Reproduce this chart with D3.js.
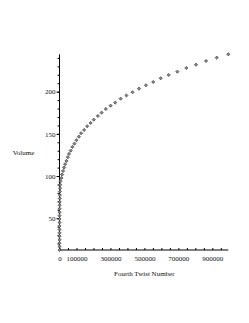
<!DOCTYPE html>
<html>
<head>
<meta charset="utf-8">
<script src="https://cdn.jsdelivr.net/npm/d3@7"></script>
<style>
  body { margin: 0; background: #fff; }
  svg { display: block; }
  text { font-family: "Liberation Serif", "Times New Roman", serif; fill: #111; }
</style>
</head>
<body>
<div id="chart"></div>
<script>
// twist number (x) and volume (y), bottom to top
const twistNumber = [
  0, 1, 2, 4, 9, 18, 35, 60, 100, 160,
  250, 380, 560, 800, 1100, 1500, 2000, 2700, 3500, 4500,
  5600, 11500, 15000, 21000, 27000, 33000, 41000, 49000, 56000, 66000,
  76000, 88000, 100000, 114000, 127000, 145000, 163000, 183000, 202000, 226000,
  248000, 273000, 301000, 328000, 360000, 394000, 430000, 468000, 509000, 552000,
  596000, 643000, 694000, 747000, 804000, 863000, 926000, 994000
];
const volume = [
  12.3, 16.4, 20.4, 24.5, 28.6, 32.7, 36.7, 40.8, 44.9, 49.0,
  53.0, 57.1, 61.2, 65.3, 69.3, 73.4, 77.5, 81.6, 85.6, 89.7,
  93.8, 97.7, 101.7, 106.0, 110.0, 114.0, 117.9, 122.3, 126.2, 130.1,
  134.5, 138.4, 142.4, 146.7, 150.7, 154.6, 159.0, 162.9, 166.8, 171.2,
  175.1, 179.5, 183.4, 187.0, 191.7, 195.5, 199.3, 203.6, 207.6, 211.5,
  215.9, 219.8, 223.7, 228.1, 232.0, 236.4, 240.3, 244.3
];

const xLabelTicks = [0, 100000, 300000, 500000, 700000, 900000];
const xMinorTicks = d3.range(0, 1000001, 50000);
const yLabelTicks = [50, 100, 150, 200];
const yMinorTicks = d3.range(20, 241, 10);

const width = 249, height = 323;
const plotLeft = 59.5, plotRight = 228.3, plotTop = 54.3, plotBottom = 250;

const svg = d3.select('#chart').append('svg')
  .attr('width', width)
  .attr('height', height);

const x = d3.scaleLinear()
  .domain([0, d3.max(twistNumber)])
  .range([plotLeft, plotRight]);

const y = d3.scaleLinear()
  .domain([d3.min(volume), d3.max(volume)])
  .range([plotBottom, plotTop]);

// minor ticks (no labels)
svg.append('g')
  .attr('transform', `translate(0,${plotBottom})`)
  .call(d3.axisTop(x).tickValues(xMinorTicks.filter(d => d <= d3.max(twistNumber))).tickSize(2).tickFormat(''))
  .call(g => g.select('.domain').remove());

svg.append('g')
  .attr('transform', `translate(${plotLeft},0)`)
  .call(d3.axisLeft(y).tickValues(yMinorTicks).tickSize(2).tickFormat(''))
  .call(g => g.select('.domain').remove());

// labelled axes
const xAxis = svg.append('g')
  .attr('transform', `translate(0,${plotBottom})`)
  .call(d3.axisBottom(x).tickValues(xLabelTicks).tickSize(0).tickPadding(6).tickFormat(d3.format('d')));
xAxis.select('.domain').attr('d', `M${plotLeft},0H${plotRight}`);
xAxis.selectAll('text').style('font-size', '7px').attr('dy', '0.71em');

const yAxis = svg.append('g')
  .attr('transform', `translate(${plotLeft},0)`)
  .call(d3.axisLeft(y).tickValues(yLabelTicks).tickSize(3).tickPadding(1));
yAxis.select('.domain').attr('d', `M0,${plotBottom}V${plotTop}`);
yAxis.selectAll('text').style('font-size', '7px');

svg.selectAll('.tick line, .domain').attr('stroke', '#000').attr('stroke-width', 1);

// axis titles
svg.append('text')
  .attr('x', 144.3)
  .attr('y', 276)
  .attr('text-anchor', 'middle')
  .style('font-size', '7px')
  .text('Fourth Twist Number');

svg.append('text')
  .attr('x', 23.5)
  .attr('y', 155)
  .attr('text-anchor', 'middle')
  .style('font-size', '7px')
  .text('Volume');

// points as small diamonds
const diamond = d3.symbol().type(d3.symbolSquare).size(5);
svg.append('g')
  .selectAll('path')
  .data(volume)
  .enter().append('path')
  .attr('d', diamond)
  .attr('transform', (d, i) => `translate(${x(twistNumber[i])},${y(d)}) rotate(45)`)
  .attr('fill', '#888')
  .attr('stroke', '#444')
  .attr('stroke-width', 0.7);
</script>
</body>
</html>
